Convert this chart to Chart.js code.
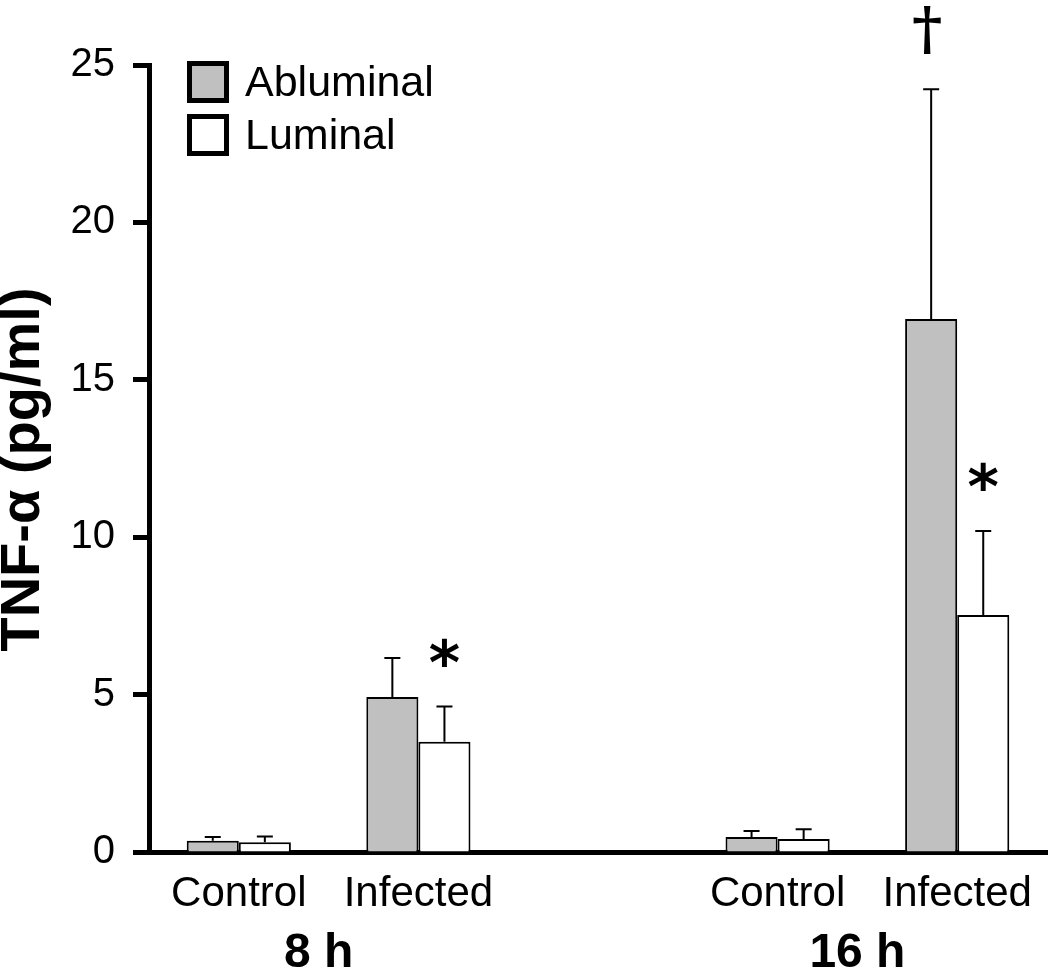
<!DOCTYPE html>
<html>
<head>
<meta charset="utf-8">
<script src="https://cdn.jsdelivr.net/npm/chart.js@4.4.1/dist/chart.umd.min.js"></script>
<style>
  html, body { margin: 0; padding: 0; background: #ffffff; }
  #wrap { width: 1050px; height: 974px; position: relative; }
</style>
</head>
<body>
<div id="wrap"><canvas id="c" width="1050" height="974"></canvas></div>
<script>
// ---- Data ----
const categories = ['Control', 'Infected', '', 'Control', 'Infected'];
const seriesNames = ['Abluminal', 'Luminal'];
const abluminal = [0.36, 4.92, null, 0.48, 16.93];
const luminal = [0.31, 3.50, null, 0.41, 7.53];
const abluminalErr = [0.12, 1.24, null, 0.19, 7.30];
const luminalErr = [0.18, 1.12, null, 0.31, 2.67];
const yTicks = [0, 5, 10, 15, 20, 25];
const groupLabels = ['8 h', '16 h'];
const groupFrom = [0, 3];
const groupTo = [1, 4];
const markText = ['*', '*', '\u2020'];
const markSeries = [1, 1, 0];
const markCategory = [1, 4, 4];
const yTitle = 'TNF-\u03b1 (pg/ml)';

const FONT = "'Liberation Sans', Arial, sans-serif";
const GRAY = '#c0c0c0';
const errors = [abluminalErr, luminalErr];

const errorBarPlugin = {
  id: 'errorBars',
  afterDatasetsDraw(chart) {
    const ctx = chart.ctx;
    const y = chart.scales.y;
    ctx.save();
    ctx.strokeStyle = '#000';
    ctx.lineWidth = 2;
    chart.data.datasets.forEach((ds, i) => {
      const meta = chart.getDatasetMeta(i);
      ds.data.forEach((v, j) => {
        if (v === null) return;
        const bar = meta.data[j];
        const top = y.getPixelForValue(v + errors[i][j]);
        ctx.beginPath();
        ctx.moveTo(bar.x, bar.y);
        ctx.lineTo(bar.x, top);
        ctx.moveTo(bar.x - 8, top);
        ctx.lineTo(bar.x + 8, top);
        ctx.stroke();
      });
    });
    // significance marks
    markText.forEach((t, k) => {
      const i = markSeries[k], j = markCategory[k];
      const bar = chart.getDatasetMeta(i).data[j];
      const v = chart.data.datasets[i].data[j];
      const top = y.getPixelForValue(v + errors[i][j]);
      ctx.fillStyle = '#000';
      ctx.textAlign = 'center';
      ctx.textBaseline = 'middle';
      if (t === '*') {
        ctx.font = "bold 60px 'DejaVu Sans', sans-serif";
        ctx.fillText(t, bar.x, top - 38);
      } else {
        ctx.font = "bold 58px 'DejaVu Serif', serif";
        ctx.fillText(t, bar.x - 4, top - 56);
      }
    });
    ctx.restore();
  }
};

const legendPlugin = {
  id: 'boxLegend',
  afterDraw(chart) {
    const ctx = chart.ctx;
    const a = chart.chartArea;
    ctx.save();
    chart.data.datasets.forEach((ds, i) => {
      const bx = a.left + 38, by = a.top - 4 + i * 53;
      ctx.fillStyle = ds.backgroundColor;
      ctx.fillRect(bx + 2.5, by + 2.5, 37, 37);
      ctx.strokeStyle = '#000';
      ctx.lineWidth = 5;
      ctx.strokeRect(bx + 2.5, by + 2.5, 37, 37);
      ctx.fillStyle = '#000';
      ctx.font = '43px ' + FONT;
      ctx.textAlign = 'left';
      ctx.textBaseline = 'middle';
      ctx.fillText(ds.label, bx + 58, by + 23);
    });
    // group labels
    const x = chart.scales.x;
    ctx.font = 'bold 48px ' + FONT;
    ctx.textAlign = 'center';
    ctx.textBaseline = 'alphabetic';
    groupLabels.forEach((g, k) => {
      const cx = (x.getPixelForValue(groupFrom[k]) + x.getPixelForValue(groupTo[k])) / 2 - 10;
      ctx.fillText(g, cx, 967);
    });
    // y-axis title
    ctx.save();
    ctx.translate(24, (a.top + a.bottom) / 2 + 11);
    ctx.rotate(-Math.PI / 2);
    ctx.font = 'bold 56px ' + FONT;
    ctx.textAlign = 'center';
    ctx.textBaseline = 'middle';
    ctx.fillText(yTitle, 0, 0);
    ctx.restore();
    ctx.restore();
  }
};

new Chart(document.getElementById('c'), {
  type: 'bar',
  data: {
    labels: categories,
    datasets: [
      { label: seriesNames[0], data: abluminal, backgroundColor: GRAY, borderColor: '#000', borderWidth: 2 },
      { label: seriesNames[1], data: luminal, backgroundColor: '#ffffff', borderColor: '#000', borderWidth: 2 }
    ]
  },
  options: {
    responsive: false,
    animation: false,
    devicePixelRatio: 1,
    layout: { padding: { top: 65, right: 3, left: 0, bottom: 0 } },
    datasets: { bar: { barPercentage: 1, categoryPercentage: 0.58 } },
    plugins: { legend: { display: false }, tooltip: { enabled: false } },
    scales: {
      x: {
        grid: { display: false },
        border: { display: true, color: '#000', width: 5 },
        ticks: { color: '#000', font: { family: FONT, size: 42 }, padding: 9, maxRotation: 0, autoSkip: false },
        afterFit(scale) { scale.height = 974 - 852; }
      },
      y: {
        min: 0, max: 25,
        afterBuildTicks(scale) { scale.ticks = yTicks.map(v => ({ value: v })); },
        grid: { display: true, drawOnChartArea: false, tickLength: 16, tickWidth: 5, tickColor: '#000' },
        border: { display: true, color: '#000', width: 5 },
        ticks: { color: '#000', font: { family: FONT, size: 40 }, padding: 18 },
        title: { display: false },
        afterFit(scale) { scale.width = 149; }
      }
    }
  },
  plugins: [errorBarPlugin, legendPlugin]
});
</script>
</body>
</html>
